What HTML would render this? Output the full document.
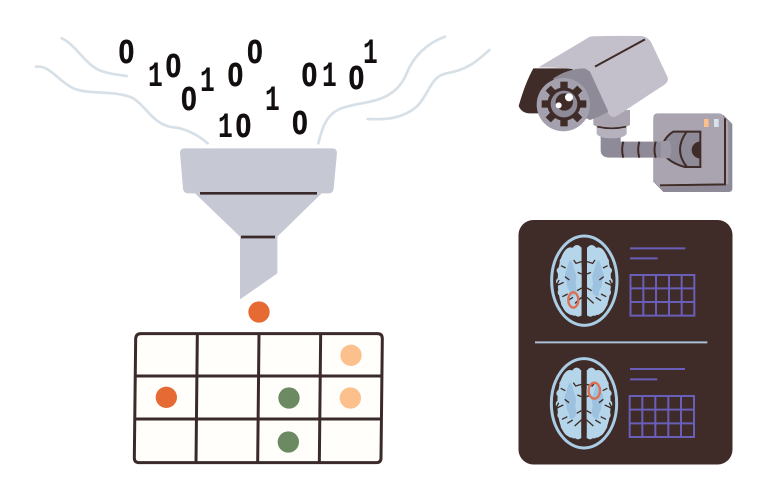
<!DOCTYPE html>
<html><head><meta charset="utf-8"><style>
html,body{margin:0;padding:0;background:#fff}
svg{display:block}
.d{font-family:"Liberation Sans",sans-serif;font-weight:700;fill:#120e0e;stroke:#120e0e;stroke-width:.5}
</style></head><body>
<svg width="768" height="500" viewBox="0 0 768 500" xmlns="http://www.w3.org/2000/svg">
<defs>
<clipPath id="lh"><rect x="-100" y="-120" width="92" height="240"/></clipPath>
<g id="half" clip-path="url(#lh)">
<g fill="#b4d5ea">
<ellipse cx="-42" cy="0" rx="38" ry="100"/>
<rect x="-35" y="-100" width="27" height="205"/>
<circle cx="-22" cy="-94" r="13"/><circle cx="-45" cy="-80" r="12"/><circle cx="-62" cy="-58" r="12"/><circle cx="-72" cy="-30" r="11"/><circle cx="-74" cy="2" r="11"/><circle cx="-68" cy="35" r="12"/><circle cx="-58" cy="68" r="12"/><circle cx="-38" cy="90" r="13"/><circle cx="-18" cy="98" r="10"/>
</g>
<path d="M-42 -62C-30 -50-34 -35-26 -22C-20 -5-30 5-24 18C-22 42-32 50-44 44C-40 28-54 24-52 8C-56 -8-62 -18-54 -30C-50 -42-50 -52-42 -62Z" fill="#9cc2e0"/>
</g>
<g id="brain">
<ellipse cx="0" cy="0" rx="98" ry="134" fill="#3f2b27" stroke="#a9cde4" stroke-width="9"/>
<use href="#half"/>
<use href="#half" transform="scale(-1 1)"/>
<path d="M-8 -57L-25 -52L-32 -62M-8 -20L-20 -25M-8 22L-22 30M-8 50L-28 68M-34 50L-50 60M-62 5L-84 15L-76 -2M-58 -12L-45 -2M-70 -45L-56 -38M-66 48L-50 40M8 -57L25 -52L32 -62M8 -20L20 -25M8 22L22 30M8 50L28 68M34 50L50 60M62 5L84 15L76 -2M58 -12L45 -2M70 -45L56 -38M66 48L50 40" stroke="#3f2b27" stroke-width="4" fill="none"/>
</g>
</defs>

<!-- wires -->
<g transform="translate(30 30) scale(.33333)" fill="none" stroke="#d7e0e7" stroke-width="8" stroke-linecap="round">
<path d="M95 25C130 40 160 90 190 110C215 130 260 133 290 138"/>
<path d="M18 110C60 105 80 150 130 175C180 195 260 180 310 205C350 230 370 285 430 292C470 295 510 320 533 340"/>
</g>
<g transform="translate(270 30) scale(.33333)" fill="none" stroke="#d7e0e7" stroke-width="8" stroke-linecap="round">
<path d="M525 20C470 40 430 80 410 130C390 180 350 205 300 215C230 230 190 230 165 280C155 300 150 320 145 340"/>
<path d="M658 60C620 95 590 120 530 130C480 140 480 190 440 230C400 265 350 270 293 267"/>
</g>

<!-- binary digits -->
<g class="d" font-size="33">
<text transform="translate(118.500 63) scale(.86 1)">0</text>
<text transform="translate(165.500 77) scale(.86 1)">0</text>
<text transform="translate(181 110) scale(.86 1)">0</text>
<text transform="translate(227.500 86) scale(.86 1)">0</text>
<text transform="translate(247 63) scale(.86 1)">0</text>
<text transform="translate(235.500 137) scale(.86 1)">0</text>
<text transform="translate(301.500 86) scale(.86 1)">0</text>
<text transform="translate(348.500 89) scale(.86 1)">0</text>
<text transform="translate(292 134) scale(.86 1)">0</text>
</g>
<g font-family="'Liberation Mono',monospace" font-weight="700" font-size="35" fill="#120e0e">
<text transform="translate(148 86) scale(.7 1)">1</text>
<text transform="translate(200 91) scale(.7 1)">1</text>
<text transform="translate(218 137) scale(.7 1)">1</text>
<text transform="translate(322 86) scale(.7 1)">1</text>
<text transform="translate(363 63) scale(.7 1)">1</text>
<text transform="translate(265 110) scale(.7 1)">1</text>
</g>

<!-- funnel + table -->
<g transform="translate(125 140) scale(.33333)">
<path d="M210 160H590L457 290V400L345 478V290Z" fill="#c6c8d4"/>
<path d="M178 25H622Q636 25 636 39L626 145Q625 160 610 160H190Q175 160 174 145L165 39Q165 25 178 25Z" fill="#c6c8d4"/>
<path d="M225 160H576M348 291H450" stroke="#3a2a2a" stroke-width="8" fill="none"/>
<path d="M48 581H757Q772 581 772 596L768 954Q768 968 753 968H43Q28 968 28 954L32 596Q33 581 48 581Z" fill="#fffefa" stroke="#3b2a2a" stroke-width="9"/>
<path d="M217 581L213 968M402 581L398 968M587 581L583 968M31 708H770M29 837H769" stroke="#3b2a2a" stroke-width="9" fill="none"/>
<circle cx="402" cy="516" r="32" fill="#e56a33"/>
<circle cx="678" cy="646" r="32" fill="#fcc08c"/>
<circle cx="124" cy="772" r="32" fill="#e56a33"/>
<circle cx="492" cy="774" r="32" fill="#6c8a62"/>
<circle cx="676" cy="774" r="32" fill="#fcc08c"/>
<circle cx="490" cy="906" r="32" fill="#6c8a62"/>
</g>

<!-- camera -->
<g transform="translate(510 30) scale(.33333)">
<path d="M640 255L667 282V476Q667 486 657 486H460L430 455V270Q430 255 445 255Z" fill="#8f8a97"/>
<path d="M443 250H625Q640 250 640 262L655 275V462L450 472L430 452V263Q430 250 443 250Z" fill="#a9a4b0"/>
<path d="M645 265V463L450 466" stroke="#3f2b27" stroke-width="6" fill="none"/>
<rect x="582" y="267" width="14" height="24" fill="#fcc08c"/>
<rect x="612" y="267" width="14" height="24" fill="#d7e2ec"/>
<path d="M490 305H571V411H525Q465 395 455 355Q462 322 490 305Z" fill="#8f8a97" stroke="#3f2b27" stroke-width="6"/>
<path d="M530 305Q490 360 530 410" fill="none" stroke="#3f2b27" stroke-width="6"/>
<path d="M570 335A25 25 0 0 0 570 385Z" fill="#3f2b27"/>
<path d="M272 315H332V335H490V383H300Q272 383 272 360Z" fill="#8f8a97"/>
<path d="M478 333Q490 360 478 385L452 383V333Z" fill="#9d98a5"/>
<path d="M340 335Q333 360 340 383M388 335Q381 360 388 383M437 335Q430 360 437 383" stroke="#3f2b27" stroke-width="6" fill="none"/>
<path d="M260 285H350V312Q340 325 305 325Q270 325 260 312Z" fill="#b5b1bd"/>
<path d="M250 240H360V285Q340 297 305 297Q270 297 250 285Z" fill="#a9a4b0"/>
<path d="M262 290Q305 300 348 290" stroke="#3f2b27" stroke-width="5" fill="none"/>
<path d="M70 115H190L130 250H60Q35 250 26 228Q45 160 70 115Z" fill="#3f2b27"/>
<path d="M240 20Q260 17 395 18Q415 20 425 40L472 140Q478 155 462 165L325 255Q305 268 295 250L240 130Q200 112 85 112Z" fill="#c4c0cb"/>
<path d="M130 145Q175 115 225 115L240 125L295 245Q270 260 240 270L150 230Z" fill="#8f8a97"/>
<path d="M255 110L405 28" stroke="#3f2b27" stroke-width="6"/>
<circle cx="160" cy="224" r="80" fill="#a5a0ae"/>
<g fill="#3f2b27">
<circle cx="162" cy="222" r="50"/>
<rect x="151" y="155" width="22" height="134"/>
<rect x="151" y="155" width="22" height="134" transform="rotate(45 162 222)"/>
<rect x="151" y="155" width="22" height="134" transform="rotate(90 162 222)"/>
<rect x="151" y="155" width="22" height="134" transform="rotate(135 162 222)"/>
</g>
<circle cx="162" cy="222" r="40" fill="#8f8a97"/>
<circle cx="163" cy="216" r="26" fill="#3f2b27"/>
<circle cx="177" cy="202" r="12" fill="#fff"/>
<circle cx="146" cy="226" r="9" fill="#fff"/>
</g>

<!-- medical card -->
<rect x="518.500" y="220" width="214" height="244.500" rx="15" fill="#3f2b27"/>
<g transform="translate(510 215) scale(.33333)">
<use href="#brain" transform="translate(223 197)"/>
<ellipse cx="190" cy="255" rx="15" ry="23" fill="none" stroke="#dd7050" stroke-width="7"/>
<path d="M360 100H526M360 130H443" stroke="#6a5fb8" stroke-width="6" fill="none"/>
<path d="M361.500 180H553V302H361.500ZM400 180V302M438 180V302M477 180V302M515 180V302M361 220H553M361 261H553" fill="none" stroke="#6a5fb8" stroke-width="6"/>
<path d="M75 382H592" stroke="#a9c0d4" stroke-width="6"/>
</g>
<g transform="translate(510 340) scale(.33333)">
<use href="#brain" transform="translate(222 190)"/>
<ellipse cx="253" cy="152" rx="17" ry="24" fill="none" stroke="#dd7050" stroke-width="7"/>
<path d="M360 87H525M360 118H442" stroke="#6a5fb8" stroke-width="6" fill="none"/>
<path d="M359 168H552V291H359ZM397 168V291M436 168V291M475 168V291M513 168V291M359 209H552M359 250H552" fill="none" stroke="#6a5fb8" stroke-width="6"/>
</g>
</svg>
</body></html>
